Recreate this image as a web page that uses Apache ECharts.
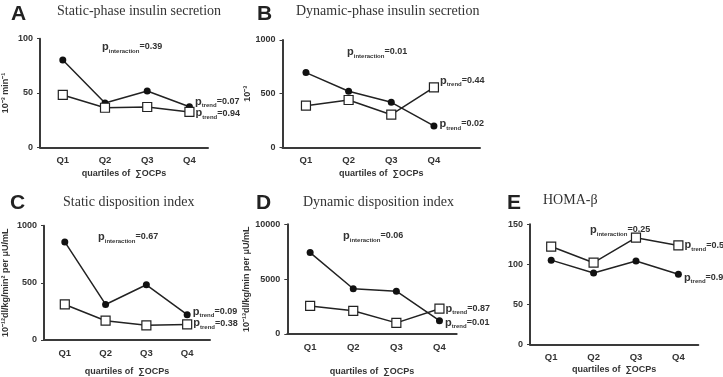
<!DOCTYPE html>
<html>
<head>
<meta charset="utf-8">
<script src="https://cdn.jsdelivr.net/npm/echarts@6/dist/echarts.min.js"></script>
<style>
html, body { margin: 0; padding: 0; background: #fff; }
#main { width: 723px; height: 377px; }
</style>
</head>
<body>
<div id="main"></div>
<script>
// categories
var quartiles = ['Q1', 'Q2', 'Q3', 'Q4'];

// A  static-phase insulin secretion
var staticSecFilled = [80.4, 40.8, 51.8, 37.4];
var staticSecOpen = [48.2, 36.4, 37.1, 32.6];
// B  dynamic-phase insulin secretion
var dynSecFilled = [696, 522, 419, 199];
var dynSecOpen = [388, 441, 304, 559];
// C  static disposition index
var staticDiFilled = [858, 311, 483, 222];
var staticDiOpen = [311, 169, 128, 136];
// D  dynamic disposition index
var dynDiFilled = [7418, 4121, 3901, 1209];
var dynDiOpen = [2555, 2115, 1016, 2308];
// E  HOMA-beta
var homaFilled = [105.2, 89.2, 104.2, 87.5];
var homaOpen = [122.2, 102.0, 133.3, 123.6];

// y tick settings [max, interval]
var yTicks = [[100, 50], [1000, 500], [1000, 500], [10000, 5000], [150, 50]];

// p values
var pInteraction = ['0.39', '0.01', '0.67', '0.06', '0.25'];
var pTrendFilled = ['0.07', '0.02', '0.09', '0.01', '0.99'];
var pTrendOpen = ['0.94', '0.44', '0.38', '0.87', '0.59'];

var txt = '#333';
var lineCol = '#222';
var richP = {
    p: { fontSize: 11, fontWeight: 'bold', color: txt, lineHeight: 14, fontFamily: 'Liberation Sans' },
    s: { fontSize: 6, fontWeight: 'bold', color: txt, lineHeight: 8, verticalAlign: 'bottom', fontFamily: 'Liberation Sans' },
    v: { fontSize: 9, fontWeight: 'bold', color: txt, lineHeight: 14, fontFamily: 'Liberation Sans' }
};

var panels = [
    { letter: 'A', title: 'Static-phase insulin secretion', yName: '10⁻³ min⁻¹', yGap: 30,
      grid: { left: 37.5, top: 38.7, width: 170.5, height: 108.6 }, xMin: 0.46, xMax: 4.44, xGap: 22,
      filled: staticSecFilled, open: staticSecOpen, fOff: -5, oOff: 1.5,
      letterPos: [11, 4], titlePos: [57, 4], intPos: [102, 40] },
    { letter: 'B', title: 'Dynamic-phase insulin secretion', yName: '10⁻³', yGap: 28,
      grid: { left: 282.5, top: 40, width: 197.5, height: 107.3 }, xMin: 0.45, xMax: 5.08, xGap: 22,
      filled: dynSecFilled, open: dynSecOpen, fOff: -2, oOff: -6.5,
      letterPos: [257, 4], titlePos: [296, 4], intPos: [347, 45] },
    { letter: 'C', title: 'Static disposition index', yName: '10⁻¹²dl/kg/min² per μU/mL', yGap: 34,
      grid: { left: 41, top: 225.7, width: 169, height: 120 }, xMin: 0.49, xMax: 4.56, xGap: 27,
      filled: staticDiFilled, open: staticDiOpen, fOff: -3, oOff: -1,
      letterPos: [10, 193], titlePos: [63, 195], intPos: [98, 230] },
    { letter: 'D', title: 'Dynamic disposition index', yName: '10⁻¹³dl/kg/min per μU/mL', yGap: 32,
      grid: { left: 287.3, top: 224.3, width: 169.4, height: 121.4 }, xMin: 0.47, xMax: 4.40, xGap: 33,
      filled: dynDiFilled, open: dynDiOpen, fOff: 2, oOff: 0,
      letterPos: [256, 193], titlePos: [303, 195], intPos: [343, 229] },
    { letter: 'E', title: 'HOMA-β', yName: '', yGap: 30,
      grid: { left: 530, top: 224.3, width: 168.3, height: 120 }, xMin: 0.5, xMax: 4.47, xGap: 21,
      filled: homaFilled, open: homaOpen, fOff: 3.5, oOff: 0,
      letterPos: [507, 193], titlePos: [543, 193], intPos: [590, 223] }
];

function trendLabel(p, dy, dist) {
    return {
        show: true, position: 'right', distance: dist, offset: [0, dy],
        formatter: '{p|p}{s|trend}{v|=' + p + '}', rich: richP
    };
}

function toPoints(vals, p, dy, dist) {
    return vals.map(function (v, i) {
        var item = { value: [i + 1, v] };
        if (i === vals.length - 1) item.label = trendLabel(p, dy, dist);
        return item;
    });
}

var grids = [], xAxes = [], yAxes = [], series = [], titles = [];

panels.forEach(function (pn, i) {
    grids.push(pn.grid);
    xAxes.push({
        type: 'value', gridIndex: i, min: pn.xMin, max: pn.xMax,
        axisLine: { show: true, onZero: false, lineStyle: { color: '#3a3a3a', width: 2 } },
        axisTick: { show: false },
        splitLine: { show: false },
        axisLabel: {
            customValues: [1, 2, 3, 4],
            formatter: function (v) { return quartiles[Math.round(v) - 1]; },
            color: txt, fontSize: 9.5, fontWeight: 'bold', margin: 8, fontFamily: 'Liberation Sans'
        },
        name: 'quartiles of  ∑OCPs', nameLocation: 'middle', nameGap: pn.xGap,
        nameTextStyle: { color: txt, fontSize: 9, fontWeight: 'bold', fontFamily: 'Liberation Sans' }
    });
    yAxes.push({
        type: 'value', gridIndex: i, min: 0, max: yTicks[i][0], interval: yTicks[i][1],
        axisLine: { show: true, lineStyle: { color: '#3a3a3a', width: 2 } },
        axisTick: { show: true, length: 3, lineStyle: { color: '#3a3a3a' } },
        splitLine: { show: false },
        axisLabel: {
            formatter: function (v) { return String(v); },
            color: txt, fontSize: 9, fontWeight: 'bold', margin: 7, fontFamily: 'Liberation Sans'
        },
        name: pn.yName, nameLocation: 'middle', nameGap: pn.yGap,
        nameTextStyle: { color: txt, fontSize: 9, fontWeight: 'bold', fontFamily: 'Liberation Sans' }
    });
    series.push({
        type: 'line', xAxisIndex: i, yAxisIndex: i,
        data: toPoints(pn.filled, pTrendFilled[i], pn.fOff, 2),
        symbol: 'circle', symbolSize: 7,
        itemStyle: { color: '#111' },
        lineStyle: { color: lineCol, width: 1.5 },
        z: 2
    });
    series.push({
        type: 'line', xAxisIndex: i, yAxisIndex: i,
        data: toPoints(pn.open, pTrendOpen[i], pn.oOff, 1),
        symbol: 'rect', symbolSize: 9,
        itemStyle: { color: '#fff', borderColor: lineCol, borderWidth: 1.2 },
        lineStyle: { color: lineCol, width: 1.5 },
        z: 3
    });
    titles.push({
        text: pn.letter, left: pn.letterPos[0], top: pn.letterPos[1], padding: 0,
        textStyle: { fontSize: 21, fontWeight: 'bold', color: '#222', fontFamily: 'Liberation Sans' }
    });
    titles.push({
        text: pn.title, left: pn.titlePos[0], top: pn.titlePos[1], padding: 0,
        textStyle: { fontSize: 14, fontWeight: 'normal', color: txt, fontFamily: 'Liberation Serif' }
    });
    titles.push({
        text: '{p|p}{s|interaction}{v|=' + pInteraction[i] + '}',
        left: pn.intPos[0], top: pn.intPos[1], padding: 0,
        textStyle: { rich: richP }
    });
});

var myChart = echarts.init(document.getElementById('main'));
myChart.setOption({
    animation: false,
    backgroundColor: '#fff',
    title: titles,
    grid: grids,
    xAxis: xAxes,
    yAxis: yAxes,
    series: series
});
</script>
</body>
</html>
